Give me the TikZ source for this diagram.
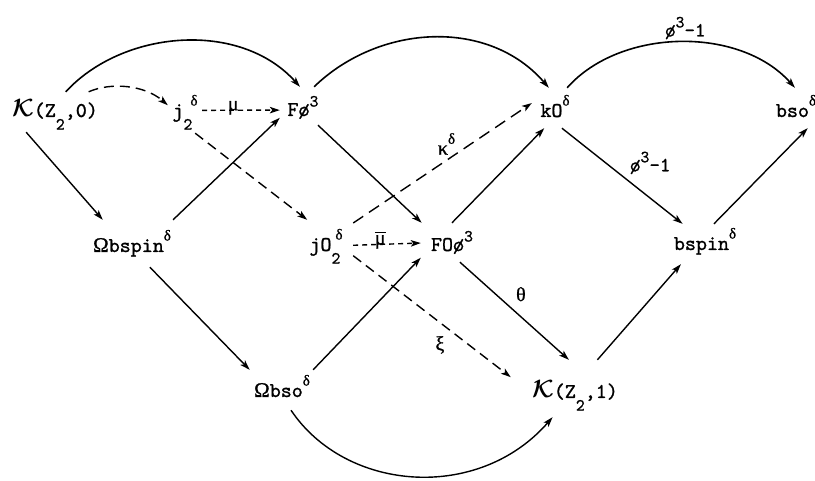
\documentclass[tikz,border=0pt]{standalone}
\usepackage{fontspec}
\newfontfamily\gr{Liberation Serif}[FakeBold=1]
\newfontfamily\tw{lmmono10-regular.otf}[FakeBold=1.2]
\usetikzlibrary{arrows.meta}
\newcommand\upx[1]{\raisebox{0.45em}{\fontsize{17}{17}\selectfont #1}}
\newcommand\updl{\raisebox{0.55em}{\fontsize{15}{15}\selectfont\gr δ}}
\newcommand\dnx[1]{\raisebox{-0.6em}{\fontsize{17}{17}\selectfont #1}}
\newcommand\calK{{\fontsize{31}{31}\selectfont$\boldsymbol{\mathcal{K}}$}}
\usepackage{amsmath,amsbsy}
\begin{document}
\begin{tikzpicture}[x=1pt,y=1pt,
  every node/.style={font=\fontsize{21}{24}\selectfont\tw, inner sep=0pt},
  ar/.style={-{Stealth[length=10pt,width=6.5pt,inset=2.5pt]}, line width=1.4pt},
  cv/.style={ar, line width=1.6pt},
  dsh/.style={ar, dash pattern=on 10pt off 6pt},
  dshs/.style={ar, dash pattern=on 5pt off 4pt},
  lab/.style={font=\fontsize{20}{22}\selectfont\gr, inner sep=1pt},
  lbt/.style={font=\fontsize{20}{22}\selectfont\tw, inner sep=1pt}]
\useasboundingbox (0,0) rectangle (815,480);
% nodes
\node[anchor=base, text height=25pt, text depth=15pt, minimum width=90pt] (K0) at (55,363) {\calK(Z\dnx{2},0)};
\node[anchor=base, text height=22pt, text depth=16pt, minimum width=34pt] (j2) at (185,363) {j\rlap{\dnx{2}}\kern7pt\updl};
\node[anchor=base, text height=29pt, text depth=9pt, minimum width=46pt] (F3) at (303,364) {Fø\upx{3}};
\node[anchor=base, text height=29pt, text depth=11pt, minimum width=46pt] (kO) at (555,363) {kO\updl};
\node[anchor=base, text height=29pt, text depth=11pt, minimum width=44pt] (bso) at (796,363) {bso\updl};
\node[anchor=base, text height=32pt, text depth=15pt, minimum width=84pt] (Obspin) at (132,228) {{\gr Ω}bspin\updl};
\node[anchor=base, text height=31pt, text depth=9pt, minimum width=54pt] (jO2) at (326,229) {jO\rlap{\dnx{2}}\kern4pt\updl};
\node[anchor=base, text height=28pt, text depth=11pt, minimum width=62pt] (FO3) at (452,229) {FOø\upx{3}};
\node[anchor=base, text height=26pt, text depth=14pt, minimum width=70pt] (bspin) at (705,230) {bspin\updl};
\node[anchor=base, text height=27pt, text depth=13pt, minimum width=72pt] (Obso) at (282,83) {{\gr Ω}bso\updl};
\node[anchor=base, text height=38pt, text depth=19pt, minimum width=128pt] (K1) at (575,82) {\calK(Z\dnx{2},1)};
% connectors
\draw[cv] (K0.62) .. controls +(57,62) and +(-60,67) .. (F3.99.5);
\draw[dsh] (K0.31) .. controls +(23,10) and +(-23,20) .. (j2.153);
\draw[dshs] (j2.12) -- node[lab, pos=0.4, anchor=base]{μ} (F3.190);
\draw[ar] (K0.215) -- (Obspin.141.5);
\draw[dsh] (j2.298) -- (jO2.133.5);
\draw[ar] (Obspin.30.7) -- (F3.207);
\draw[ar] (F3.308) -- (FO3.147);
\draw[cv] (F3.60) .. controls +(65,63) and +(-60,70) .. (kO.107);
\draw[ar, dash pattern=on 12pt off 7pt] (jO2.32) -- node[lab, pos=0.58, anchor=south east, yshift=-3pt]{κ\updl} (kO.168);
\draw[dshs] (jO2.349.5) -- node[lab, pos=0.4, anchor=base]{$\overline{\hbox{μ}}$} (FO3.181);
\draw[dsh] (jO2.330) -- node[lab, pos=0.55, below=12pt]{ξ} (K1.170);
\draw[ar] (Obspin.307.5) -- (Obso.148);
\draw[ar] (Obso.33) -- (FO3.206.5);
\draw[ar] (Obso.294) .. controls +(55,-82) and +(-74,-85) .. (K1.232);
\draw[ar] (FO3.90) -- (kO.242);
\draw[ar] (FO3.292) -- node[lab, pos=0.5, anchor=south west, yshift=8pt]{θ} (K1.102);
\draw[cv] (kO.59) .. controls +(53,60) and +(-55,62) .. node[lbt, pos=0.5, anchor=south, yshift=1pt, xshift=5pt]{ø\upx{3}-1} (bso.93);
\draw[ar] (kO.289) -- node[lbt, pos=0.55, anchor=south west, yshift=5pt]{ø\upx{3}-1} (bspin.138);
\draw[ar] (K1.52) -- (bspin.220);
\draw[ar] (bspin.66) -- (bso.300);
\end{tikzpicture}
\end{document}
